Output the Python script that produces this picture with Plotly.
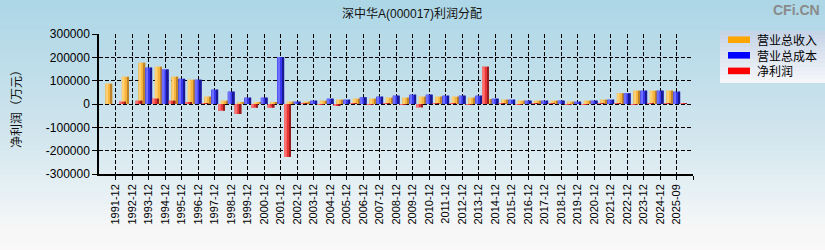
import plotly.graph_objects as go

# ---------------- data ----------------
categories = [
    "1991-12", "1992-12", "1993-12", "1994-12", "1995-12", "1996-12", "1997-12",
    "1998-12", "1999-12", "2000-12", "2001-12", "2002-12", "2003-12", "2004-12",
    "2005-12", "2006-12", "2007-12", "2008-12", "2009-12", "2010-12", "2011-12",
    "2012-12", "2013-12", "2014-12", "2015-12", "2016-12", "2017-12", "2018-12",
    "2019-12", "2020-12", "2021-12", "2022-12", "2023-12", "2024-12", "2025-09",
]
revenue = [
    87000, 117000, 177000, 160000, 117000, 104000, 31500,
    14300, 5700, 8600, 5700, 10000, 10000, 14300,
    18600, 22900, 22900, 27200, 27200, 31500, 31500,
    31500, 27200, 21000, 18600, 14300, 14300, 14300,
    10000, 14300, 18600, 45800, 57200, 57200, 57200,
]
cost = [
    None, None, 156000, 148000, 108000, 104000, 61500,
    53000, 27200, 27200, 201000, 10000, 14300, 22900,
    18600, 28600, 31500, 35800, 40000, 40000, 35800,
    35800, 35800, 22900, 18600, 14300, 14300, 14300,
    10000, 14300, 18600, 45800, 57200, 57200, 53000,
]
profit = [
    10000, 14000, 23000, 14000, 5700, 4000, -28600,
    -43000, -15700, -15700, -227000, 4000, -2000, -8600,
    3000, -2000, 3000, -2000, -14300, 3000, 2000,
    -2000, 160000, 2000, -3000, 2000, 2000, -2000,
    -3000, 2000, 2000, -2000, 3000, 2000, 1500,
]
series_names = ["营业总收入", "营业总成本", "净利润"]
series_values = [revenue, cost, profit]
legend_colors = ["#FFA500", "#0000FF", "#FF0000"]

y_tick_values = [300000, 200000, 100000, 0, -100000, -200000, -300000]
y_tick_labels = ["300000", "200000", "100000", "0", "-100000", "-200000", "-300000"]

title_text = "深中华A(000017)利润分配"
y_title_text = "净利润（万元）"
watermark_text = "CFi.CN"

# ---------------- layout geometry ----------------
FW, FH = 825, 250
ML, MR, MT, MB = 99, 132, 34, 76
PW = FW - ML - MR
PH = FH - MT - MB


def px(x):
    return (x - ML) / PW


def py(y):
    return (FH - MB - y) / PH


FONT = "Liberation Sans, Arial, Noto Sans CJK SC, sans-serif"
CJK = "Noto Sans CJK SC, Liberation Sans, sans-serif"

# bar styling: (body, light highlight, dark edge)
bar_styles = [
    ("rgb(247,180,60)", "rgb(255,208,115)", "rgb(190,130,40)"),
    ("rgb(55,55,238)", "rgb(110,110,255)", "rgb(25,25,150)"),
    ("rgb(232,52,52)", "rgb(250,115,115)", "rgb(150,30,30)"),
]
bar_offsets = [-0.62, -0.20, 0.21]
BAR_W = 0.42

xs = list(range(len(categories)))
fig = go.Figure()

for name, vals, (body, light, dark), off in zip(series_names, series_values, bar_styles, bar_offsets):
    fig.add_trace(go.Bar(
        x=xs, y=vals, name=name, offset=off, width=BAR_W,
        marker=dict(color=body, line=dict(width=0)),
        showlegend=False,
    ))
    fig.add_trace(go.Bar(
        x=xs, y=vals, name=name, offset=off + 0.06, width=0.11,
        marker=dict(color=light, line=dict(width=0)),
        showlegend=False, hoverinfo="skip",
    ))
    fig.add_trace(go.Bar(
        x=xs, y=vals, name=name, offset=off + 0.32, width=0.10,
        marker=dict(color=dark, line=dict(width=0)),
        showlegend=False, hoverinfo="skip",
    ))

# ---------------- background gradient ----------------
stops = [
    (0, (172, 214, 230)),
    (125, (206, 228, 237)),
    (190, (230, 240, 244)),
    (225, (245, 246, 247)),
    (250, (250, 248, 248)),
]


def grad_color(y):
    for (y0, c0), (y1, c1) in zip(stops[:-1], stops[1:]):
        if y0 <= y <= y1:
            t = (y - y0) / (y1 - y0)
            return tuple(round(a + (b - a) * t) for a, b in zip(c0, c1))
    return stops[-1][1]


shapes = []
step = 5
for y in range(0, FH, step):
    c = grad_color(y + step / 2)
    shapes.append(dict(
        type="rect", xref="paper", yref="paper",
        x0=px(-5), x1=px(FW + 5), y0=py(y + step + 0.6), y1=py(y),
        fillcolor="rgb(%d,%d,%d)" % c, line=dict(width=0), layer="below",
    ))

# ---------------- custom legend ----------------
LX0, LX1, LY0, LY1 = 720, 825, 31, 83
lstops = [(0, (196, 211, 231)), (1, (247, 247, 250))]
nl = 13
for i in range(nl):
    t0 = i / nl
    t1 = (i + 1) / nl
    tm = (t0 + t1) / 2
    c = tuple(round(a + (b - a) * tm) for a, b in zip(lstops[0][1], lstops[1][1]))
    ya = LY0 + (LY1 - LY0) * t0
    yb = LY0 + (LY1 - LY0) * t1 + 0.5
    shapes.append(dict(
        type="rect", xref="paper", yref="paper",
        x0=px(LX0), x1=px(LX1), y0=py(min(yb, LY1)), y1=py(ya),
        fillcolor="rgb(%d,%d,%d)" % c, line=dict(width=0), layer="above",
    ))

annotations = []
LEG_FS = 12
LINE_H = LEG_FS * 1.3
LEG_MID = 55.3
legend_y = [LEG_MID - LINE_H, LEG_MID, LEG_MID + LINE_H]
for col, yc in zip(legend_colors, legend_y):
    shapes.append(dict(
        type="rect", xref="paper", yref="paper",
        x0=px(728), x1=px(750), y0=py(yc + 3.3), y1=py(yc - 3.3),
        fillcolor=col, line=dict(width=0), layer="above",
    ))
annotations.append(dict(
    text="<br>".join(series_names), xref="paper", yref="paper",
    x=px(755), y=py(LEG_MID), align="left",
    xanchor="left", yanchor="middle", showarrow=False,
    font=dict(family=CJK, size=LEG_FS, color="#000000"),
))

annotations.append(dict(
    text=title_text, xref="paper", yref="paper", x=px(412), y=py(13),
    xanchor="center", yanchor="middle", showarrow=False,
    font=dict(family=FONT, size=12, color="#111111"),
))
annotations.append(dict(
    text="<b>" + watermark_text + "</b>", xref="paper", yref="paper", x=px(822), y=py(10),
    xanchor="right", yanchor="middle", showarrow=False,
    font=dict(family=FONT, size=14, color="#8a8a8a"),
))
annotations.append(dict(
    text=y_title_text, xref="paper", yref="paper", x=px(15), y=py(106),
    xanchor="center", yanchor="middle", showarrow=False, textangle=-90,
    font=dict(family=CJK, size=12, color="#111111"),
))

fig.update_layout(
    width=FW, height=FH,
    margin=dict(l=ML, r=MR, t=MT, b=MB, pad=0),
    paper_bgcolor="white",
    plot_bgcolor="rgba(0,0,0,0)",
    barmode="overlay",
    showlegend=False,
    shapes=shapes,
    annotations=annotations,
    font=dict(family=FONT, size=12, color="#000000"),
)

fig.update_xaxes(
    range=[-1, len(categories)],
    tickmode="array",
    tickvals=xs + [len(categories)],
    ticktext=categories + [""],
    tickangle=-90,
    tickfont=dict(family=FONT, size=11, color="#000000"),
    showgrid=True, gridcolor="#000000", gridwidth=1, griddash="4px,2px",
    showline=True, linecolor="#000000", linewidth=1.5,
    ticks="outside", ticklen=4, tickcolor="#000000",
    zeroline=False,
)
fig.update_yaxes(
    range=[-300000, 300000],
    tickmode="array",
    tickvals=y_tick_values,
    ticktext=y_tick_labels,
    tickfont=dict(family=FONT, size=12, color="#000000"),
    showgrid=True, gridcolor="#000000", gridwidth=1, griddash="4px,2px",
    showline=True, linecolor="#000000", linewidth=1.5,
    ticks="outside", ticklen=5, tickcolor="#000000",
    zeroline=False,
)

fig.write_html("out.html")
